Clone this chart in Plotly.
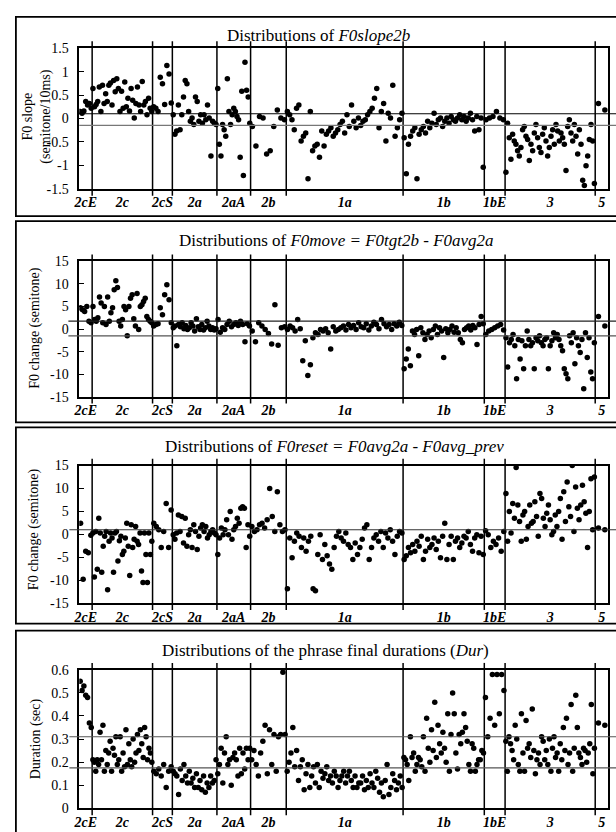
import plotly.graph_objects as go

W, H = 616, 832

categories = ["2cE", "2c", "2cS", "2a", "2aA", "2b", "1a", "1b", "1bE", "3", "5"]
# horizontal room given to each category slot (x-axis units)
slot_widths = [13, 61, 20, 45, 34, 36, 118, 82, 21, 91, 13]

# ---------------- Panel 1: F0slope2b (semitone/10ms) ----------------
s_2cE = [0.15, 0.11, 0.16, 0.36, 0.29, 0.32, 0.22]
s_2c = [0.64, 0.25, 0.30, 0.36, 0.67, 0.15, 0.71, 0.32, 0.53, 0.36, 0.71, 0.76, 0.29, 0.81, 0.57,
        0.85, 0.64, 0.15, 0.58, 0.22, 0.78, 0.25, 0.43, 0.16, 0.64, 0.39, 0.01, 0.32, 0.67, 0.29,
        0.15, 0.79, 0.29, 0.36, 0.08, 0.43, 0.22, 0.15]
s_2cS = [0.25, 0.22, 0.15, 0.88, 0.74, 0.30, 1.13, 0.95, 0.33]
s_2a = [0.08, -0.34, -0.27, 0.29, -0.24, 0.08, 0.46, 0.81, 0.74, 0.15, -0.06, 0.01, -0.13, 0.46,
        0.36, -0.06, 0.08, -0.10, 0.08, -0.03, 0.29, 0.01, -0.80, -0.06, -0.10, -0.13]
s_2aA = [0.64, -0.55, -0.80, -0.13, -0.24, -0.38, 0.85, 0.15, -0.13, 0.08, 0.22, 0.15, 0.04, -0.03,
         -0.83, 0.58, -1.22, 1.20, 0.60, 0.46, -0.10]
s_2b = [-0.17, -0.59, 0.04, 0.01, -0.76, -0.69, -0.17, 0.18, 0.01, -0.03]
s_1a = [0.15, 0.08, -0.03, -0.24, 0.22, 0.29, -0.48, -0.38, -0.31, -1.29, 0.15, -0.69, -0.59, -0.55,
        -0.83, -0.27, -0.59, -0.34, -0.27, -0.20, -0.38, -0.31, -0.24, -0.13, -0.06, -0.31, 0.08,
        -0.17, 0.29, -0.06, -0.20, 0.01, -0.15, -0.06, -0.03, 0.08, 0.15, 0.22, 0.43, 0.64, -0.20,
        0.15, 0.32, -0.48, 0.11, 0.01, 0.71, -0.38, -0.20, -0.03, 0.11]
s_1b = [-0.41, -1.18, -0.55, -0.38, -0.27, -0.20, -1.29, -0.34, -0.24, -0.17, -0.31, -0.06, -0.20,
        -0.10, 0.11, -0.13, -0.03, 0.01, -0.17, -0.06, 0.01, -0.10, 0.04, -0.03, -0.06, 0.01, 0.08,
        -0.03, 0.04, -0.06, 0.01, 0.11, -0.03, -0.27, 0.04, -0.24, 0.01, -1.04]
s_1bE = [-0.03, 0.01, 0.04, 0.15, 0.01, -0.03]
s_3 = [-1.15, -0.10, -0.41, -0.87, -0.34, -0.48, -0.55, -0.69, -0.80, -0.62, -0.24, -0.17, -0.38,
       -0.45, -0.90, -0.55, -0.69, -0.31, -0.13, -0.41, -0.62, -0.73, -0.34, -0.20, -0.48, -0.80,
       -0.62, -0.38, -0.24, -0.55, -0.13, -0.27, -0.48, -0.31, -0.41, -0.55, -1.11, -0.17, -0.03,
       -0.31, -0.48, -0.13, -0.38, -0.76, -0.24, -0.55, -1.32, -1.43, -1.01, -0.80, -0.45, -0.13,
       -0.48, -1.39]
s_5 = [0.32, 0.18]

# ---------------- Panel 2: F0move (semitone) ----------------
m_2cE = [4.7, 4.3, 3.9, 5.0, 1.75, 1.4]
m_2c = [5.0, 2.1, 1.75, 2.5, 7.1, 5.8, 1.4, 5.0, 1.0, 7.1, 1.75, 3.6, 4.7, 8.7, 10.7, 9.2, 1.75,
        0.7, 2.1, 5.0, 4.3, -1.5, 5.0, 6.8, 7.6, 2.3, 0.7, 7.9, -0.1, 5.0, 5.4, 6.1, 6.8, 2.8, 2.1,
        1.75, 1.4]
m_2cS = [0.7, 1.0, 1.2, 4.7, 3.2, 7.6, 9.8, 6.5, 1.4]
m_2a = [0.3, 0.7, -3.7, 1.0, 0.5, 1.4, 0.1, 0.8, -0.1, 0.3, 1.4, 0.7, -0.4, 2.3, 0.5, -0.1, 1.0,
        -0.2, 0.3, 1.75, 0.7, -0.1, 0.3, -0.2, 0.1]
m_2aA = [2.1, -0.7, 0.3, -0.1, 1.0, 1.75, 0.5, 1.0, 1.4, 0.8, 1.75, 1.0, -2.8, 1.2, 0.7]
m_2b = [-0.4, -2.8, 1.4, 0.7, -0.1, -1.0, -3.3, 5.4, -3.6, 0.3, 0.5]
m_1a = [-0.1, 0.7, 0.3, -0.4, 2.1, 0.1, -7.0, -2.6, -10.3, -7.9, -1.9, -0.8, -1.2, -0.1, -0.4, 0.1,
        -0.8, -4.4, 0.5, -0.4, -0.1, 0.3, 0.7, -0.2, 1.0, 0.3, 0.8, -0.1, 1.4, 0.5, 0.3, 1.2, -0.2,
        0.7, 1.5, 1.0, 0.1, 2.1, 1.2, 0.5, 1.0, -0.1, 1.2, 0.7, 1.5, 0.8]
m_1b = [-8.8, -6.6, -4.4, -8.1, -0.4, -1.2, -0.1, -5.9, 0.3, -0.8, -2.3, -1.2, -0.4, -1.9, -0.1,
        0.7, -1.2, 0.3, -0.4, -6.3, 0.1, -0.8, -0.1, 0.7, -0.7, 0.3, -0.8, -2.3, -3.0, -0.1, 0.3,
        0.7, -0.2, 0.8, 0.3, -3.4, 1.0, 2.8, 1.2]
m_1bE = [-1.2, -0.4, -0.1, 0.3, 0.7, 1.0, -0.2]
m_3 = [-1.9, -8.4, -3.0, -2.3, -1.2, -3.7, -11.0, -2.3, -6.6, -2.6, -8.8, -3.7, -0.4, -2.3, -3.7,
       -3.0, -8.8, -1.9, -2.6, -1.5, -3.0, -3.7, -2.3, -1.9, -8.8, -3.7, -2.6, -0.8, -1.9, -1.2,
       -2.3, -3.7, -4.8, -8.8, -9.9, -11.0, -1.5, -3.0, -0.8, -7.7, -1.9, -3.7, -5.2, -2.3, -13.2,
       -0.8, -6.3, -1.9, -9.5, -11.0, -3.0]
m_5 = [2.8, 0.7]

# ---------------- Panel 3: F0reset (semitone) ----------------
r_2cE = [2.4, -9.8, -3.7, -4.0, -0.2]
r_2c = [0.3, -9.3, 0.6, -7.6, 3.5, 0.3, -8.3, -2.6, -0.4, 0.6, -12.1, -1.5, 0.3, -0.8, -8.3, 0.3,
        0.6, -5.8, -1.4, -0.4, -4.4, -3.7, -0.8, 2.4, -2.6, -9.0, 2.1, -2.9, -1.1, 1.7, -1.5, -2.2,
        0.3, -8.0, -10.5, 0.3, -4.4, -10.5, 0.3, -4.4, -1.5]
r_2cS = [2.4, 1.7, 1.0, -2.9, 0.6, 6.7, -2.9, 5.3]
r_2a = [-0.1, -1.1, 0.3, 4.2, 0.6, 3.9, -1.9, 3.5, -2.6, -0.1, 1.0, -2.9, 2.1, 0.6, -3.3, -0.4,
        1.4, 2.1, 0.6, 1.7, -0.8, -0.1, 0.6, 1.0, 0.3, -0.1]
r_2aA = [-4.4, -0.8, 1.4, -0.1, 1.0, 3.2, -0.1, 5.0, -1.1, 1.0, 1.7, 3.5, 2.4, 5.7, 6.0, 5.7, -2.9,
         2.1, -0.4]
r_2b = [1.7, 0.6, 1.0, 2.1, 2.4, 1.4, 3.2, 10.0, 3.9, 0.6, 9.3, 2.1, 0.6, 1.0]
r_1a = [-11.9, -0.8, -5.1, -1.5, 0.3, -0.4, -2.9, -0.8, -3.7, -1.5, -0.4, -11.9, -12.3, -4.4, -0.1,
        -5.5, -2.2, -4.7, -6.5, -7.6, -2.9, -0.4, 0.6, -0.8, -1.5, 0.3, -2.2, -2.9, -5.5, -1.9,
        -4.4, -2.9, -1.1, 1.4, 2.1, -5.5, -2.9, -0.8, -0.1, -1.5, 0.6, -2.9, 0.3, -0.8, 1.0, -1.5,
        -4.4, -0.4, 0.6, 0.3]
r_1b = [-5.5, -4.7, -2.9, -4.0, -2.2, -3.7, -1.5, -2.6, -0.4, -5.5, -3.7, -1.1, -2.9, -2.2, -0.8,
        -3.3, -1.5, -5.1, -0.4, 2.4, -5.5, -2.2, -0.4, -5.5, -1.5, -0.8, -2.9, -1.9, -0.4, -0.8,
        0.6, -2.2, -3.7, -0.8, -0.1, -4.0, -0.4, -4.4]
r_1bE = [0.8, -0.1, -2.9, -1.5, -2.2, -0.8, -3.7, 0.6]
r_3 = [8.9, -1.5, 5.0, 0.3, 6.7, 3.5, 14.6, 6.4, 2.8, -1.5, 4.2, 5.0, -1.1, 1.7, 6.4, 2.4, 2.8, 7.1,
       3.9, -0.4, 8.9, 7.8, 3.5, 1.7, 4.6, 6.4, 3.2, -0.1, 0.6, 4.2, 1.7, 5.0, 7.8, -1.1, 9.3, 2.8,
       11.4, 6.0, 3.9, 15.0, 0.6, 10.3, 5.7, 3.2, 6.4, 10.7, 7.1, 4.6, -2.9, 5.0, 12.1, 1.0, 12.5]
r_5 = [1.4, 1.0]

# ---------------- Panel 4: phrase final durations (sec) ----------------
d_2cE = [0.55, 0.51, 0.53, 0.49, 0.48, 0.37, 0.35]
d_2c = [0.21, 0.20, 0.16, 0.21, 0.19, 0.33, 0.21, 0.36, 0.16, 0.25, 0.19, 0.24, 0.29, 0.16, 0.26,
        0.23, 0.31, 0.19, 0.21, 0.31, 0.16, 0.24, 0.18, 0.34, 0.19, 0.28, 0.21, 0.18, 0.30, 0.20,
        0.24, 0.32, 0.25, 0.34, 0.28, 0.22, 0.35, 0.31, 0.21, 0.26, 0.24, 0.20]
d_2cS = [0.16, 0.15, 0.17, 0.14, 0.19, 0.09, 0.16, 0.18]
d_2a = [0.16, 0.15, 0.14, 0.06, 0.17, 0.12, 0.19, 0.14, 0.11, 0.16, 0.11, 0.13, 0.09, 0.15, 0.09,
        0.12, 0.08, 0.14, 0.07, 0.11, 0.09, 0.14, 0.11, 0.12, 0.21]
d_2aA = [0.15, 0.19, 0.26, 0.11, 0.24, 0.31, 0.19, 0.21, 0.10, 0.22, 0.24, 0.21, 0.14, 0.26, 0.15,
         0.24, 0.17, 0.26, 0.21, 0.26]
d_2b = [0.21, 0.25, 0.19, 0.14, 0.24, 0.29, 0.36, 0.15, 0.34, 0.19, 0.32, 0.16, 0.31, 0.32, 0.59,
        0.32]
d_1a = [0.16, 0.20, 0.24, 0.35, 0.18, 0.25, 0.12, 0.18, 0.21, 0.08, 0.15, 0.19, 0.09, 0.14, 0.18,
        0.11, 0.19, 0.09, 0.16, 0.13, 0.15, 0.18, 0.12, 0.14, 0.11, 0.16, 0.14, 0.09, 0.12, 0.14,
        0.16, 0.11, 0.14, 0.16, 0.12, 0.09, 0.14, 0.09, 0.11, 0.11, 0.14, 0.08, 0.12, 0.09, 0.15,
        0.11, 0.09, 0.16, 0.13, 0.07, 0.11, 0.05, 0.12, 0.19, 0.06, 0.09, 0.15, 0.12, 0.08, 0.11,
        0.14, 0.09]
d_1b = [0.22, 0.21, 0.19, 0.12, 0.31, 0.22, 0.24, 0.16, 0.19, 0.22, 0.21, 0.18, 0.31, 0.16, 0.39,
        0.26, 0.20, 0.34, 0.25, 0.46, 0.22, 0.36, 0.28, 0.24, 0.33, 0.26, 0.20, 0.41, 0.16, 0.32,
        0.50, 0.41, 0.24, 0.17, 0.32, 0.28, 0.33, 0.41, 0.35, 0.29, 0.19, 0.16, 0.28, 0.26, 0.16,
        0.19, 0.21, 0.21, 0.25, 0.24]
d_1bE = [0.48, 0.31, 0.39, 0.58, 0.36, 0.58, 0.41, 0.58, 0.51]
d_3 = [0.29, 0.16, 0.31, 0.28, 0.25, 0.21, 0.36, 0.30, 0.19, 0.16, 0.41, 0.24, 0.16, 0.38, 0.26,
       0.28, 0.22, 0.43, 0.25, 0.15, 0.21, 0.24, 0.19, 0.31, 0.29, 0.21, 0.25, 0.19, 0.30, 0.16,
       0.26, 0.31, 0.22, 0.24, 0.16, 0.28, 0.21, 0.35, 0.25, 0.39, 0.19, 0.24, 0.45, 0.16, 0.26,
       0.49, 0.35, 0.24, 0.22, 0.19, 0.26, 0.25, 0.20, 0.24, 0.28, 0.45, 0.15, 0.26]
d_5 = [0.37, 0.36]

# tick labels
slope_ticks = [1.5, 1, 0.5, 0, -0.5, -1, -1.5]
slope_labels = ["1.5", "1", "0.5", "0", "-0.5", "-1", "-1.5"]
semi_ticks = [15, 10, 5, 0, -5, -10, -15]
semi_labels = ["15", "10", "5", "0", "-5", "-10", "-15"]
dur_ticks = [0.6, 0.5, 0.4, 0.3, 0.2, 0.1, 0]
dur_labels = ["0.6", "0.5", "0.4", "0.3", "0.2", "0.1", "0"]

# reference levels drawn across each panel
slope_refs = [0.10, -0.15]
move_refs = [1.75, -1.5]
reset_refs = [1.0]
dur_refs = [0.31, 0.175]

FONT = "Liberation Serif, Times New Roman, serif"

panels = [
    dict(data=[s_2cE, s_2c, s_2cS, s_2a, s_2aA, s_2b, s_1a, s_1b, s_1bE, s_3, s_5],
         yrange=[-1.5, 1.5], tv=slope_ticks, tt=slope_labels, refs=slope_refs,
         refcolors=["#000000", "#777777"], refx0=74,
         title="Distributions of <i>F0slope2b</i>", tpos=(316, 29),
         ytitle="F0 slope<br>(semitone/10ms)", ytpos=(31, 112), ytsize=14,
         top=42, bot=185, box=(10, 213)),
    dict(data=[m_2cE, m_2c, m_2cS, m_2a, m_2aA, m_2b, m_1a, m_1b, m_1bE, m_3, m_5],
         yrange=[-15, 15], tv=semi_ticks, tt=semi_labels, refs=move_refs,
         refcolors=["#222222", "#555555"], refx0=63,
         title="Distributions of <i>F0move = F0tgt2b - F0avg2a</i>", tpos=(334, 238),
         ytitle="F0 change (semitone)", ytpos=(29, 327), ytsize=14,
         top=259, bot=397, box=(218, 423)),
    dict(data=[r_2cE, r_2c, r_2cS, r_2a, r_2aA, r_2b, r_1a, r_1b, r_1bE, r_3, r_5],
         yrange=[-15, 15], tv=semi_ticks, tt=semi_labels, refs=reset_refs,
         refcolors=["#333333"], refx0=64,
         title="Distributions of <i>F0reset = F0avg2a - F0avg_prev</i>", tpos=(332, 448),
         ytitle="F0 change (semitone)", ytpos=(29, 532), ytsize=14,
         top=467, bot=607, box=(428, 628)),
    dict(data=[d_2cE, d_2c, d_2cS, d_2a, d_2aA, d_2b, d_1a, d_1b, d_1bE, d_3, d_5],
         yrange=[0, 0.6], tv=dur_ticks, tt=dur_labels, refs=dur_refs,
         refcolors=["#555555", "#555555"], refx0=64,
         title="Distributions of the phrase final durations (<i>Dur</i>)", tpos=(323, 655),
         ytitle="Duration (sec)", ytpos=(30, 745), ytsize=14,
         top=675, bot=816, box=(635, 850)),
]

bounds = [0]
for w in slot_widths:
    bounds.append(bounds[-1] + w)
centers = [(bounds[i] + bounds[i + 1]) / 2 for i in range(len(slot_widths))]
xdom = [74 / W, 608 / W]

fig = go.Figure()
shapes, annotations = [], []
layout = {}

for k, p in enumerate(panels, start=1):
    xs, ys = [], []
    for i, vals in enumerate(p["data"]):
        n = len(vals)
        for j, v in enumerate(vals):
            xs.append(bounds[i] + slot_widths[i] * (j + 0.5) / n)
            ys.append(v)
    xa = "x" if k == 1 else f"x{k}"
    ya = "y" if k == 1 else f"y{k}"
    fig.add_trace(go.Scatter(x=xs, y=ys, mode="markers", xaxis=xa, yaxis=ya,
                             marker=dict(color="black", size=5.5, line=dict(width=0)),
                             hoverinfo="skip", showlegend=False))
    xkey = "xaxis" if k == 1 else f"xaxis{k}"
    ykey = "yaxis" if k == 1 else f"yaxis{k}"
    layout[xkey] = dict(domain=xdom, range=[0, bounds[-1]], anchor=ya,
                        showline=True, mirror=True, linecolor="black", linewidth=1.5,
                        showgrid=False, zeroline=False, ticks="",
                        tickvals=centers, ticktext=[f"<b><i>{c}</i></b>" for c in categories],
                        tickfont=dict(family=FONT, size=14, color="black"))
    layout[ykey] = dict(domain=[1 - p["bot"] / H, 1 - p["top"] / H], range=p["yrange"],
                        anchor=xa, showline=True, mirror=True, linecolor="black",
                        linewidth=1.5, showgrid=False, zeroline=False,
                        ticks="inside", ticklen=5, tickcolor="black", tickwidth=1,
                        tickvals=p["tv"], ticktext=p["tt"], ticklabelstandoff=6,
                        tickfont=dict(family=FONT, size=14, color="black"))
    # category separators
    for b in bounds[1:-1]:
        shapes.append(dict(type="line", xref=xa, yref=f"{ya} domain", x0=b, x1=b,
                           y0=-0.05, y1=1.05, line=dict(color="black", width=1.5)))
    # reference levels
    for v, c in zip(p["refs"], p["refcolors"]):
        shapes.append(dict(type="line", xref="paper", yref=ya, x0=p["refx0"] / W, x1=1.0,
                           y0=v, y1=v, line=dict(color=c, width=1.2)))
    # outer frame
    shapes.append(dict(type="rect", xref="paper", yref="paper", x0=10 / W, x1=1.02,
                       y0=1 - p["box"][1] / H, y1=1 - p["box"][0] / H,
                       line=dict(color="black", width=1.8), fillcolor="rgba(0,0,0,0)"))
    annotations.append(dict(text=p["title"], xref="paper", yref="paper",
                            x=p["tpos"][0] / W, y=1 - p["tpos"][1] / H,
                            xanchor="center", yanchor="middle", showarrow=False,
                            font=dict(family=FONT, size=17, color="black")))
    annotations.append(dict(text=p["ytitle"], xref="paper", yref="paper",
                            x=p["ytpos"][0] / W, y=1 - p["ytpos"][1] / H, textangle=-90,
                            xanchor="center", yanchor="middle", showarrow=False,
                            font=dict(family=FONT, size=p["ytsize"], color="black")))

fig.update_layout(width=W, height=H, margin=dict(l=0, r=0, t=0, b=0),
                  paper_bgcolor="white", plot_bgcolor="white",
                  font=dict(family=FONT, color="black"),
                  shapes=shapes, annotations=annotations, showlegend=False, **layout)

fig.write_html("out.html", config={"displayModeBar": False},
               post_script="document.body.style.margin='0';"
                           "document.body.style.overflow='hidden';")
